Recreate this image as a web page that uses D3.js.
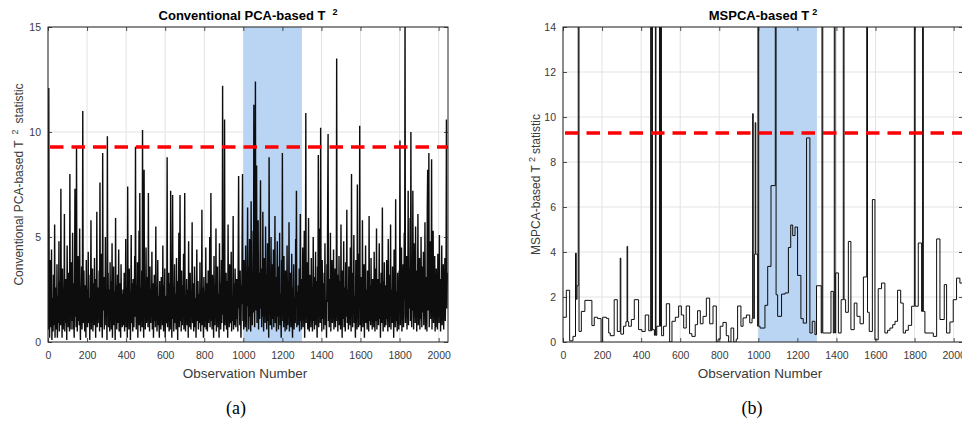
<!DOCTYPE html>
<html>
<head>
<meta charset="utf-8">
<script src="https://cdn.jsdelivr.net/npm/d3@7"></script>
<style>
  html, body { margin: 0; padding: 0; background: #fff; }
  svg { display: block; font-family: "Liberation Sans", Arial, sans-serif; }
</style>
</head>
<body>
<svg id="chart" width="962" height="423"></svg>
<script>
// ---- data ---------------------------------------------------------------
const obsDomain = [0, 2048];
const pcaStep = 2;                 // observation spacing of the stored PCA T² samples
const pcaT2 = [
  1.4,0.6,12.1,2.3,0.2,1.8,3.9,0.7,1.2,4.4,0.1,2.1,1.6,0.5,3.2,1.1,0.8,5.6,0.2,1.9,2.6,0.6,1.3,3.7,0.2,1.5,2.2,0.9,4.8,0.5,1.7,2.9,
  0.8,7.3,1.1,2.7,0.2,3.5,1.9,0.6,2.4,1.2,6.1,0.5,1.6,3.0,0.9,2.2,0.1,4.6,1.4,2.0,0.7,3.3,1.8,0.5,8.0,1.3,2.5,0.6,3.8,1.0,2.1,5.2,
  0.6,2.8,1.5,0.2,3.1,7.3,1.2,2.4,0.7,9.3,1.7,0.5,2.9,4.1,1.0,2.3,0.8,5.4,1.6,0.1,2.6,1.9,3.6,0.6,1.4,11.0,2.0,0.9,3.4,1.3,0.5,2.7,
  1.8,0.2,3.9,1.1,2.5,0.7,1.6,4.3,0.9,2.1,1.4,0.1,3.2,1.9,5.8,0.6,2.4,1.0,3.5,0.5,1.7,2.8,0.8,4.0,1.3,2.2,0.2,3.0,1.5,6.2,0.7,2.0,
  0.9,2.6,1.3,3.4,0.5,7.6,1.8,0.7,2.3,4.2,1.1,0.2,9.0,2.0,1.5,3.1,0.6,2.7,1.2,5.0,0.8,2.2,1.6,0.1,9.8,1.9,3.3,0.7,1.4,2.5,0.5,3.8,
  1.2,2.9,0.6,1.7,4.7,0.2,2.1,1.0,3.6,0.8,2.4,1.5,0.1,5.9,1.9,2.7,0.6,1.3,3.2,0.9,2.0,4.4,0.5,1.6,2.8,1.1,0.2,3.7,1.8,2.3,0.7,1.4,
  2.5,0.8,1.6,3.3,0.5,2.2,1.1,4.9,0.7,1.9,2.6,0.2,7.4,1.3,2.0,0.6,3.5,1.0,2.4,0.1,1.7,5.1,0.9,2.8,1.4,0.5,3.0,1.8,0.7,2.3,4.1,1.2,
  9.3,1.5,0.6,2.7,1.2,3.8,0.2,2.0,1.6,5.3,0.8,7.1,1.9,0.5,2.6,1.1,3.4,0.7,10.1,2.2,1.3,0.2,8.2,1.8,2.9,0.6,1.4,4.5,0.9,2.1,1.0,3.1,
  0.7,7.1,1.4,2.3,0.5,3.6,1.8,0.9,2.5,1.2,4.3,0.6,1.9,2.8,0.2,1.5,3.2,1.0,2.1,0.7,5.5,1.3,2.6,0.5,1.7,3.9,0.8,2.2,1.1,0.2,2.9,1.6,
  2.0,0.6,3.1,1.3,2.4,0.8,4.6,1.1,0.5,2.7,1.7,3.5,0.2,1.9,2.2,0.9,1.4,8.8,0.7,2.5,1.2,3.3,0.5,1.8,2.8,0.6,7.2,1.5,2.1,0.2,3.0,7.0,
  1.1,2.6,0.5,1.8,3.7,0.9,2.3,1.4,0.6,4.0,1.6,2.1,0.1,2.9,1.2,5.2,0.7,1.9,7.0,1.0,2.4,0.5,3.4,1.5,0.8,2.7,1.3,4.2,0.6,2.0,7.1,1.7,
  0.5,2.2,1.3,3.0,0.8,1.7,2.5,0.2,4.8,1.1,2.0,0.7,3.3,1.5,0.6,2.4,1.9,5.7,0.9,1.4,2.8,0.5,1.2,3.6,0.7,2.1,1.6,0.2,2.7,4.4,1.0,1.8,
  2.9,0.6,1.5,2.3,0.9,3.8,1.2,0.5,2.0,1.7,6.3,0.8,2.6,1.3,0.2,3.1,1.9,0.7,2.4,1.0,4.5,0.6,1.6,2.8,0.5,1.4,3.4,0.9,2.2,1.1,5.0,0.7,
  1.8,7.1,1.0,2.5,0.6,3.2,1.4,2.1,0.2,4.1,1.7,0.8,2.7,1.2,5.4,0.5,2.0,1.5,3.6,0.7,2.3,1.1,0.2,4.7,1.9,2.8,0.6,1.3,3.9,0.9,2.2,12.2,
  1.3,2.6,0.5,1.9,10.6,0.8,2.4,1.6,3.3,0.6,1.2,2.9,0.2,5.6,1.8,2.1,0.7,3.7,1.4,0.9,2.5,4.3,0.5,1.7,2.2,1.0,6.0,0.6,2.8,1.5,0.8,3.5,
  2.0,0.7,1.4,3.0,1.1,2.6,0.5,4.4,7.9,1.6,2.2,0.8,3.4,1.3,0.2,2.7,1.8,5.1,8.0,1.0,2.4,0.6,3.9,1.5,2.9,0.7,4.6,1.2,2.0,0.5,3.2,6.4,
  1.7,3.6,0.6,2.5,4.9,1.2,2.8,0.5,6.7,1.9,3.1,0.8,2.3,5.3,1.4,11.3,2.6,0.7,3.8,12.4,1.5,4.2,8.4,0.9,2.7,1.3,5.8,0.6,3.3,2.0,1.1,4.5,
  7.7,1.6,2.9,0.7,3.5,1.2,6.2,2.1,0.5,4.0,1.8,2.6,0.9,5.5,1.3,3.2,0.6,2.4,4.7,1.0,2.8,0.2,8.8,1.7,3.0,0.8,2.2,5.0,1.4,0.6,3.7,2.0,
  1.1,4.4,0.7,2.5,1.6,6.0,0.9,3.1,1.9,0.5,2.7,4.8,1.2,2.0,0.6,3.6,1.5,5.2,0.8,2.3,1.3,0.2,3.9,1.8,9.0,1.0,2.6,0.7,4.1,1.4,2.2,0.5,
  3.4,1.2,2.0,0.6,4.6,1.7,0.8,2.9,1.3,5.7,0.5,2.3,1.0,3.3,0.7,1.9,4.2,1.1,0.2,2.6,1.6,3.7,0.6,2.1,1.4,0.9,4.9,1.8,7.2,0.7,2.4,1.5,
  0.8,2.7,1.3,3.5,0.5,1.9,6.1,1.0,2.4,0.6,3.0,1.5,4.5,0.7,2.2,1.2,5.3,0.2,2.8,1.7,10.9,0.9,2.5,1.4,3.8,0.6,2.0,5.9,1.1,0.5,3.2,1.8,
  2.3,0.7,4.0,1.4,2.6,0.5,1.8,5.0,1.0,3.1,0.6,2.2,1.6,4.3,0.8,2.9,1.2,0.2,3.6,1.9,8.9,0.7,2.4,1.3,5.4,0.9,10.2,1.7,2.7,0.5,3.9,1.1,
  1.5,2.8,0.6,3.3,1.2,4.7,0.8,2.0,1.6,0.2,3.7,1.9,6.6,9.9,1.0,2.5,0.7,3.0,1.4,5.2,0.5,2.2,1.7,3.9,0.9,2.6,1.1,4.4,0.6,2.1,1.3,3.5,
  0.7,2.4,1.6,13.5,1.0,3.2,0.5,2.7,1.3,4.1,0.8,1.9,2.9,0.6,5.6,1.4,2.2,0.2,3.4,1.1,2.0,4.8,0.7,1.7,2.6,0.5,3.8,1.2,2.3,6.3,0.9,1.8,
  2.5,0.6,3.6,1.3,2.1,0.8,4.5,1.7,0.5,8.0,1.2,2.7,0.7,3.3,1.5,5.1,0.9,2.2,1.4,0.2,3.9,1.8,2.6,0.6,7.5,1.1,2.9,0.7,4.2,1.6,10.3,0.8,
  1.9,3.1,0.5,2.4,1.2,5.8,0.7,2.0,1.5,3.7,0.2,2.8,1.1,4.6,0.9,1.7,2.5,0.6,3.4,1.3,2.2,0.5,6.0,1.0,2.7,1.6,0.8,4.0,1.4,2.3,0.6,3.0,
  1.2,2.6,0.7,4.3,1.8,0.5,2.1,3.5,1.0,5.4,0.6,2.4,1.5,3.0,0.8,1.9,4.7,1.1,2.8,0.2,1.6,3.3,0.9,2.2,6.4,1.3,0.5,2.9,1.7,3.8,0.7,2.0,
  2.7,0.8,1.5,3.9,1.1,2.3,0.5,4.9,1.6,2.0,0.7,3.2,1.3,5.6,0.6,2.5,1.8,0.9,3.6,1.2,2.1,0.2,4.4,1.5,2.8,0.7,6.8,1.0,2.4,1.4,0.5,3.3,
  1.4,2.9,0.6,3.4,1.7,9.6,0.8,2.2,1.2,4.5,0.5,2.6,1.9,3.7,0.7,1.3,5.2,2.0,16.0,0.9,2.7,1.5,4.1,0.6,2.3,1.1,7.2,0.8,3.5,1.6,2.1,5.9,
  1.0,10.0,2.4,0.7,3.8,1.5,7.2,2.2,0.6,4.7,1.3,2.9,0.9,5.5,1.7,2.5,0.5,3.4,1.2,6.1,0.8,2.0,1.6,4.0,0.6,2.8,1.1,5.0,1.9,0.7,3.6,2.3,
  1.4,4.3,0.8,2.6,1.2,5.7,0.6,3.1,1.8,2.2,0.5,6.5,8.2,1.5,2.9,9.0,0.7,3.6,1.9,4.8,1.1,2.4,8.7,0.6,3.3,1.7,5.3,0.9,2.7,1.3,4.1,0.5,
  2.1,0.7,3.5,1.4,2.8,0.6,4.2,1.7,2.3,0.9,5.1,1.2,3.0,0.5,2.5,1.8,4.6,0.8,2.0,1.3,3.7,0.6,2.7,1.5,4.0,1.0,2.2,3.4,10.6,1.6,2.9,3.3
];

// MSPCA T²: piecewise-constant levels, [first observation, value]
const mspcaLevels = [
  [0,1.1],[17,2.3],[34,0.05],[51,0.25],[68,1.9],[72,2.5],[82,0.47],[94,1.36],[112,1.85],[148,0.73],
  [160,1.1],[177,1.04],[195,0.0],[203,1.1],[222,1.05],[234,0.4],[242,0.28],[262,1.88],[278,0.47],[296,0.35],
  [310,0.7],[322,0.9],[336,0.7],[350,1.0],[365,1.88],[387,0.55],[404,0.47],[421,1.2],[439,0.5],[456,0.55],
  [468,0.3],[480,0.7],[505,0.28],[515,0.7],[529,1.7],[546,0.0],[558,0.92],[575,1.1],[592,1.6],[606,1.2],
  [618,0.62],[631,1.6],[648,0.37],[660,0.25],[677,0.77],[689,1.39],[703,0.81],[717,1.14],[734,1.95],[751,0.81],
  [768,1.6],[785,0.0],[794,0.13],[805,0.7],[819,0.87],[836,0.28],[848,0.0],[860,0.62],[874,0.0],[887,0.13],
  [894,1.6],[911,0.7],[922,1.07],[939,1.2],[956,0.85],[968,1.05],[980,3.9],[997,0.7],[1009,0.62],[1034,1.63],
  [1048,3.36],[1065,6.95],[1089,2.1],[1099,1.14],[1119,2.13],[1137,2.18],[1154,4.2],[1166,5.2],[1176,4.73],[1188,5.11],
  [1201,2.96],[1218,1.04],[1230,0.84],[1247,9.07],[1264,0.4],[1276,0.92],[1290,0.33],[1298,2.5],[1322,0.4],[1372,2.25],
  [1384,0.4],[1396,3.07],[1410,0.4],[1424,1.88],[1447,1.32],[1461,4.47],[1474,0.55],[1491,1.73],[1505,1.14],[1521,0.81],
  [1538,2.89],[1555,1.32],[1568,0.47],[1584,6.33],[1597,0.1],[1614,2.37],[1631,2.62],[1648,0.4],[1662,0.52],[1674,0.62],
  [1688,0.77],[1700,0.92],[1713,2.3],[1729,1.73],[1742,0.4],[1754,0.52],[1768,0.74],[1785,1.59],[1819,4.4],[1836,1.36],
  [1853,0.4],[1896,0.25],[1913,4.58],[1930,1.0],[1952,2.55],[1964,0.4],[1981,0.89],[1998,1.88],[2015,2.84],[2032,2.62]
];
// short excursions: [first observation, value, length in observations]
const mspcaSpikes = [
  [64,3.95,4],[78,40,4],[293,3.73,3],[328,4.25,3],[449,40,3],[455,40,3],[473,40,3],[494,40,4],[500,40,4],
  [971,10.15,3],[984,9.75,3],[998,40,4],[1087,40,4],[1326,40,4],[1389,40,4],[1435,40,4],[1555,40,4],
  [1799,40,4],[1841,40,4]
];

const controlLimit = 9.29;
const faultWindow = [1000, 1300];
const xTicks = [0, 200, 400, 600, 800, 1000, 1200, 1400, 1600, 1800, 2000];
const pcaYTicks = [0, 5, 10, 15];
const mspcaYTicks = [0, 2, 4, 6, 8, 10, 12, 14];

// ---- build series ---------------------------------------------------------
const pcaSeries = pcaT2.map((v, i) => [i * pcaStep, v]);

const mspcaByObs = new Array(obsDomain[1]).fill(0);
mspcaLevels.forEach(([start, v], k) => {
  const end = k + 1 < mspcaLevels.length ? mspcaLevels[k + 1][0] : obsDomain[1];
  for (let o = start; o < end; o++) mspcaByObs[o] = v;
});
mspcaSpikes.forEach(([start, v, len]) => {
  for (let o = start; o < start + len && o < obsDomain[1]; o++) mspcaByObs[o] = v;
});
const mspcaSeries = [];
mspcaByObs.forEach((v, o) => {
  if (o === 0 || v !== mspcaByObs[o - 1]) mspcaSeries.push([o, v]);
});
mspcaSeries.push([obsDomain[1], mspcaByObs[obsDomain[1] - 1]]);

// ---- drawing --------------------------------------------------------------
const svg = d3.select("#chart");
const axisColor = "#262626";
const fmt = d3.format("d");

function panel(cfg) {
  const { id, left, right, top, bottom, yMax, yTicks, series, curve, lineWidth, title, yLabel, tag, tagX } = cfg;
  const x = d3.scaleLinear().domain(obsDomain).range([left, right]);
  const y = d3.scaleLinear().domain([0, yMax]).range([bottom, top]);
  const g = svg.append("g");

  g.append("clipPath").attr("id", id).append("rect")
    .attr("x", left).attr("y", top).attr("width", right - left).attr("height", bottom - top);

  // grid
  const grid = g.append("g").attr("stroke", "#e3e3e3").attr("stroke-width", 1);
  grid.selectAll(".gx").data(xTicks).join("line")
    .attr("x1", d => x(d)).attr("x2", d => x(d)).attr("y1", top).attr("y2", bottom);
  grid.selectAll(".gy").data(yTicks).join("line")
    .attr("x1", left).attr("x2", right).attr("y1", d => y(d)).attr("y2", d => y(d));

  // fault window
  g.append("rect")
    .attr("x", x(faultWindow[0])).attr("width", x(faultWindow[1]) - x(faultWindow[0]))
    .attr("y", top).attr("height", bottom - top)
    .attr("fill", "#bad4f3");

  // statistic
  g.append("path").datum(series)
    .attr("clip-path", `url(#${id})`)
    .attr("fill", "none").attr("stroke", "#0d0d0d").attr("stroke-width", lineWidth)
    .attr("stroke-linejoin", "miter")
    .attr("d", d3.line().x(d => x(d[0])).y(d => y(d[1])).curve(curve));

  // control limit
  g.append("line")
    .attr("x1", left + 2).attr("x2", right).attr("y1", y(controlLimit)).attr("y2", y(controlLimit))
    .attr("stroke", "#ff0000").attr("stroke-width", 3.5).attr("stroke-dasharray", "13.5,8");

  // axes with inward ticks on all four sides
  const styleAxis = sel => {
    sel.select(".domain").remove();
    sel.selectAll(".tick line").attr("stroke", axisColor).attr("stroke-width", 0.8);
    sel.selectAll(".tick text").attr("fill", "#3a3a3a").attr("font-size", 10.5)
      .attr("font-family", "'Liberation Sans', Arial, sans-serif");
  };
  g.append("g").attr("transform", `translate(0,${bottom})`)
    .call(d3.axisBottom(x).tickValues(xTicks).tickFormat(fmt).tickSize(-4).tickPadding(10)).call(styleAxis);
  g.append("g").attr("transform", `translate(0,${top})`)
    .call(d3.axisTop(x).tickValues(xTicks).tickSize(-4).tickFormat("")).call(styleAxis);
  g.append("g").attr("transform", `translate(${left},0)`)
    .call(d3.axisLeft(y).tickValues(yTicks).tickFormat(fmt).tickSize(-4).tickPadding(7)).call(styleAxis);
  g.append("g").attr("transform", `translate(${right},0)`)
    .call(d3.axisRight(y).tickValues(yTicks).tickSize(-4).tickFormat("")).call(styleAxis);

  g.append("rect")
    .attr("x", left).attr("y", top).attr("width", right - left).attr("height", bottom - top)
    .attr("fill", "none").attr("stroke", axisColor).attr("stroke-width", 1);

  // title
  const t = g.append("text")
    .attr("x", (left + right) / 2).attr("y", 20)
    .attr("text-anchor", "middle").attr("font-weight", "bold").attr("font-size", 13)
    .attr("fill", "#000");
  t.append("tspan").text(title[0]);
  t.append("tspan").attr("dx", title[1]).attr("dy", -5).attr("font-size", 9).text("2");

  // y label
  const yl = g.append("text")
    .attr("transform", `translate(${cfg.yLabelX},${(top + bottom) / 2}) rotate(-90)`)
    .attr("text-anchor", "middle").attr("font-size", 12).attr("fill", "#3a3a3a");
  yl.append("tspan").text(yLabel[0]);
  yl.append("tspan").attr("dx", yLabel[1]).attr("dy", -5).attr("font-size", 9).text("2");
  yl.append("tspan").attr("dx", yLabel[1]).attr("dy", 5).text("statistic");

  // x label
  g.append("text")
    .attr("x", (left + right) / 2 - 3).attr("y", 378)
    .attr("text-anchor", "middle").attr("font-size", 13.5).attr("fill", "#3a3a3a")
    .text("Observation Number");

  // panel tag
  g.append("text")
    .attr("x", tagX).attr("y", 414)
    .attr("text-anchor", "middle").attr("font-size", 18)
    .attr("font-family", "'Liberation Serif', 'Times New Roman', serif").attr("fill", "#000")
    .text(tag);
}

panel({
  id: "clipA", left: 48, right: 448, top: 27, bottom: 342, yMax: 15, yTicks: pcaYTicks,
  series: pcaSeries, curve: d3.curveLinear, lineWidth: 1.4,
  title: ["Conventional PCA-based T", 7], yLabel: ["Conventional PCA-based T", 6], yLabelX: 23,
  tag: "(a)", tagX: 236
});
panel({
  id: "clipB", left: 563, right: 963, top: 27, bottom: 342, yMax: 14, yTicks: mspcaYTicks,
  series: mspcaSeries, curve: d3.curveStepAfter, lineWidth: 1,
  title: ["MSPCA-based T", 3], yLabel: ["MSPCA-based T", 3], yLabelX: 540,
  tag: "(b)", tagX: 752
});
</script>
</body>
</html>
